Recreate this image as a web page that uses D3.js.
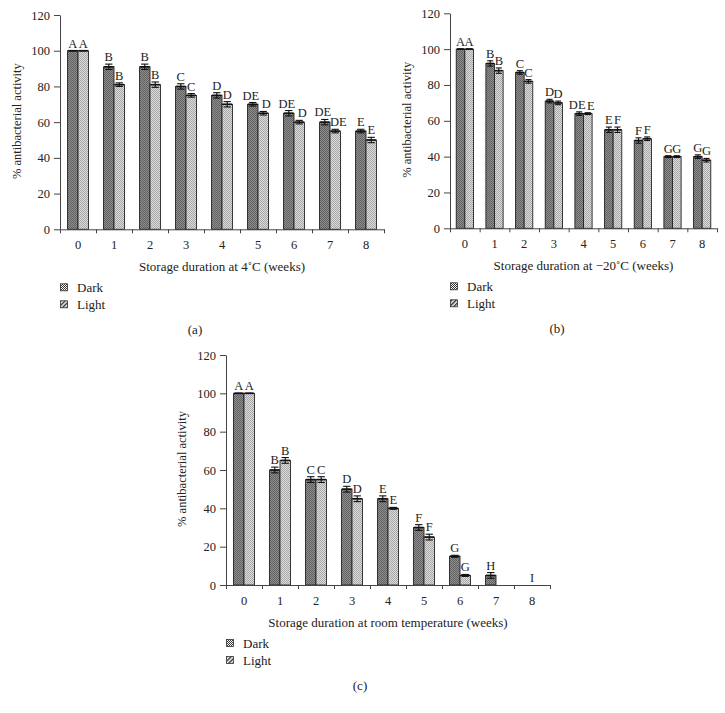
<!DOCTYPE html>
<html>
<head>
<meta charset="utf-8">
<script src="https://cdn.jsdelivr.net/npm/d3@7"></script>
<style>
  body { margin: 0; background: #fff; }
  svg text { font-family: "Liberation Serif", "DejaVu Serif", serif; fill: #222; }
  .axis path, .axis line { stroke: #444; }
</style>
</head>
<body>
<div id="chart"></div>
<script>
const weeks = ["0", "1", "2", "3", "4", "5", "6", "7", "8"];
const yTicks = [0, 20, 40, 60, 80, 100, 120];
const seriesNames = ["Dark", "Light"];

// (a) 4 C
const darkA = [100, 91, 91, 80, 75, 70, 65, 60, 55];
const lightA = [100, 81, 81, 75, 70, 65, 60, 55, 50];
const darkErrA = [0, 1.5, 1.5, 1.5, 1.5, 1, 1.5, 1.5, 1];
const lightErrA = [0, 1, 1.5, 1, 1.5, 1, 1, 1, 1.5];
const darkLetA = ["A", "B", "B", "C", "D", "DE", "DE", "DE", "E"];
const lightLetA = ["A", "B", "B", "C", "D", "D", "D", "DE", "E"];

// (b) -20 C
const darkB = [100, 92, 87, 71, 64, 55, 49, 40, 40];
const lightB = [100, 88, 82, 70, 64, 55, 50, 40, 38];
const darkErrB = [0, 1.5, 1, 1, 1, 1.5, 1.5, 0.5, 1];
const lightErrB = [0, 1.5, 1, 1, 0.5, 1.5, 1, 0.5, 1];
const darkLetB = ["A", "B", "C", "D", "DE", "E", "F", "G", "G"];
const lightLetB = ["A", "B", "C", "D", "E", "F", "F", "G", "G"];

// (c) room temperature
const darkC = [100, 60, 55, 50, 45, 30, 15, 5, 0];
const lightC = [100, 65, 55, 45, 40, 25, 5, 0, 0];
const darkErrC = [0, 1.5, 1.5, 1.5, 1.5, 1.5, 0.5, 1.5, 0];
const lightErrC = [0, 1.5, 1.5, 1.5, 0.5, 1.5, 0.5, 0, 0];
const darkLetC = ["A", "B", "C", "D", "E", "F", "G", "H", "I"];
const lightLetC = ["A", "B", "C", "D", "E", "F", "G", "", ""];

const panels = [
  {dark: darkA, light: lightA, darkErr: darkErrA, lightErr: lightErrA, darkLet: darkLetA, lightLet: lightLetA,
   xTitle: "Storage duration at 4\u02daC (weeks)", caption: "(a)",
   x0: 60, x1: 384, yBot: 229.3, yTop: 15, yTitleX: 17, captionX: 195},
  {dark: darkB, light: lightB, darkErr: darkErrB, lightErr: lightErrB, darkLet: darkLetB, lightLet: lightLetB,
   xTitle: "Storage duration at \u221220\u02daC (weeks)", caption: "(b)",
   x0: 450, x1: 717, yBot: 228.3, yTop: 13.3, yTitleX: 407, captionX: 557},
  {dark: darkC, light: lightC, darkErr: darkErrC, lightErr: lightErrC, darkLet: darkLetC, lightLet: lightLetC,
   xTitle: "Storage duration at room temperature (weeks)", caption: "(c)",
   x0: 226, x1: 550, yBot: 585, yTop: 355, yTitleX: 182, captionX: 360}
];

const width = 725, height = 713;
const svg = d3.select("#chart").append("svg")
    .attr("width", width)
    .attr("height", height);

const defs = svg.append("defs");

let pDark = defs.append("pattern").attr("id", "darkFill")
    .attr("patternUnits", "userSpaceOnUse").attr("width", 2).attr("height", 2);
pDark.append("rect").attr("width", 2).attr("height", 2).attr("fill", "#8e8e8e");
pDark.append("rect").attr("width", 1).attr("height", 1).attr("fill", "#616161");
pDark.append("rect").attr("x", 1).attr("y", 1).attr("width", 1).attr("height", 1).attr("fill", "#616161");

let pLight = defs.append("pattern").attr("id", "lightFill")
    .attr("patternUnits", "userSpaceOnUse").attr("width", 2).attr("height", 2);
pLight.append("rect").attr("width", 2).attr("height", 2).attr("fill", "#dcdcdc");
pLight.append("rect").attr("width", 1).attr("height", 1).attr("fill", "#a8a8a8");
pLight.append("rect").attr("x", 1).attr("y", 1).attr("width", 1).attr("height", 1).attr("fill", "#a8a8a8");

let pDarkKey = defs.append("pattern").attr("id", "darkKey")
    .attr("patternUnits", "userSpaceOnUse").attr("width", 2).attr("height", 2);
pDarkKey.append("rect").attr("width", 2).attr("height", 2).attr("fill", "#fff");
pDarkKey.append("rect").attr("width", 1).attr("height", 1).attr("fill", "#333");
pDarkKey.append("rect").attr("x", 1).attr("y", 1).attr("width", 1).attr("height", 1).attr("fill", "#333");

let pLightKey = defs.append("pattern").attr("id", "lightKey")
    .attr("patternUnits", "userSpaceOnUse").attr("width", 3).attr("height", 3)
    .attr("patternTransform", "rotate(45)");
pLightKey.append("rect").attr("width", 3).attr("height", 3).attr("fill", "#fff");
pLightKey.append("rect").attr("width", 1.5).attr("height", 3).attr("fill", "#333");

function drawPanel(p) {
  const g = svg.append("g");
  const x = d3.scaleBand().domain(weeks).range([p.x0, p.x1]);
  const xEdges = d3.scaleLinear().domain([0, weeks.length]).range([p.x0, p.x1]);
  const y = d3.scaleLinear().domain([0, 120]).range([p.yBot, p.yTop]);
  const barW = x.bandwidth() * 0.29;

  const rows = weeks.map((w, i) => ({
    week: w,
    vals: [p.dark[i], p.light[i]],
    errs: [p.darkErr[i], p.lightErr[i]],
    lets: [p.darkLet[i], p.lightLet[i]]
  }));

  const bars = [];
  rows.forEach(r => {
    r.vals.forEach((v, j) => {
      // nudge letters apart when a two-letter label sits next to another one
      let nudge = 0;
      if (j == 0 && r.lets[0].length > 1) nudge = -2;
      if (j == 1 && r.lets[0].length > 1) nudge = 3;
      bars.push({week: r.week, j: j, v: v, e: r.errs[j], lab: r.lets[j], nudge: nudge,
                 both0: r.vals[0] == 0 && r.vals[1] == 0});
    });
  });
  const bx = d => x(d.week) + x.bandwidth() / 2 - barW + d.j * barW;

  g.selectAll("rect.bar").data(bars.filter(d => d.v > 0))
    .join("rect")
    .attr("class", "bar")
    .attr("x", bx)
    .attr("y", d => y(d.v))
    .attr("width", barW)
    .attr("height", d => y(0) - y(d.v))
    .attr("fill", d => d.j == 0 ? "url(#darkFill)" : "url(#lightFill)")
    .attr("stroke", "#222")
    .attr("stroke-width", 0.9);

  // error bars
  const eb = g.selectAll("g.err").data(bars.filter(d => d.v > 0))
    .join("g").attr("class", "err")
    .attr("stroke", "#111");
  const cap = barW * 0.35;
  eb.append("line")
    .attr("x1", d => bx(d) + barW / 2).attr("x2", d => bx(d) + barW / 2)
    .attr("y1", d => y(d.v - d.e)).attr("y2", d => y(d.v + d.e))
    .attr("stroke-width", 1.1);
  eb.append("line")
    .attr("x1", d => bx(d) + barW / 2 - cap).attr("x2", d => bx(d) + barW / 2 + cap)
    .attr("y1", d => y(d.v + d.e)).attr("y2", d => y(d.v + d.e))
    .attr("stroke-width", 1.1);
  eb.append("line")
    .attr("x1", d => bx(d) + barW / 2 - cap).attr("x2", d => bx(d) + barW / 2 + cap)
    .attr("y1", d => y(d.v - d.e)).attr("y2", d => y(d.v - d.e))
    .attr("stroke-width", 1.1);
  eb.append("line")
    .attr("x1", d => bx(d) + 0.5).attr("x2", d => bx(d) + barW - 0.5)
    .attr("y1", d => y(d.v)).attr("y2", d => y(d.v))
    .attr("stroke-width", 1.6);

  // letters
  g.selectAll("text.letter").data(bars.filter(d => d.lab != ""))
    .join("text")
    .attr("class", "letter")
    .attr("x", d => d.both0 ? x(d.week) + x.bandwidth() / 2 : bx(d) + barW / 2 + d.nudge)
    .attr("y", d => y(d.v + d.e) - 3)
    .attr("text-anchor", "middle")
    .style("font-size", "12.5px")
    .text(d => d.lab);

  // axes
  g.append("g").attr("class", "axis")
    .attr("transform", `translate(${p.x0},0)`)
    .call(d3.axisLeft(y).tickValues(yTicks).tickSize(6).tickSizeOuter(0).tickPadding(4))
    .call(a => a.selectAll("text").style("font-size", "12.5px"));

  g.append("g").attr("class", "axis")
    .attr("transform", `translate(0,${p.yBot})`)
    .call(d3.axisBottom(xEdges).tickValues(d3.range(weeks.length + 1)).tickFormat("").tickSize(4).tickSizeOuter(0));

  g.append("g").attr("class", "axis")
    .attr("transform", `translate(0,${p.yBot})`)
    .call(d3.axisBottom(x).tickSize(0).tickPadding(11))
    .call(a => a.select(".domain").remove())
    .call(a => a.selectAll("text").style("font-size", "12.5px"));

  g.append("text")
    .attr("transform", `translate(${p.yTitleX},${(p.yBot + p.yTop) / 2 - 1}) rotate(-90)`)
    .attr("text-anchor", "middle")
    .attr("dy", "0.35em")
    .style("font-size", "12.5px")
    .text("% antibacterial activity");

  g.append("text")
    .attr("x", (p.x0 + p.x1) / 2)
    .attr("y", p.yBot + 37)
    .attr("dy", "0.35em")
    .attr("text-anchor", "middle")
    .style("font-size", "13px")
    .text(p.xTitle);

  // legend
  const leg = g.append("g");
  seriesNames.forEach((s, j) => {
    const ly = p.yBot + 58 + j * 17;
    leg.append("rect")
      .attr("x", p.x0 + 0.5).attr("y", ly - 3.5)
      .attr("width", 7).attr("height", 7)
      .attr("fill", j == 0 ? "url(#darkKey)" : "url(#lightKey)")
      .attr("stroke", "#333").attr("stroke-width", 0.8);
    leg.append("text")
      .attr("x", p.x0 + 17).attr("y", ly)
      .attr("dy", "0.35em")
      .style("font-size", "13px")
      .text(s);
  });

  g.append("text")
    .attr("x", p.captionX)
    .attr("y", p.yBot + 100)
    .attr("dy", "0.35em")
    .attr("text-anchor", "middle")
    .style("font-size", "13px")
    .text(p.caption);
}

panels.forEach(drawPanel);
</script>
</body>
</html>
